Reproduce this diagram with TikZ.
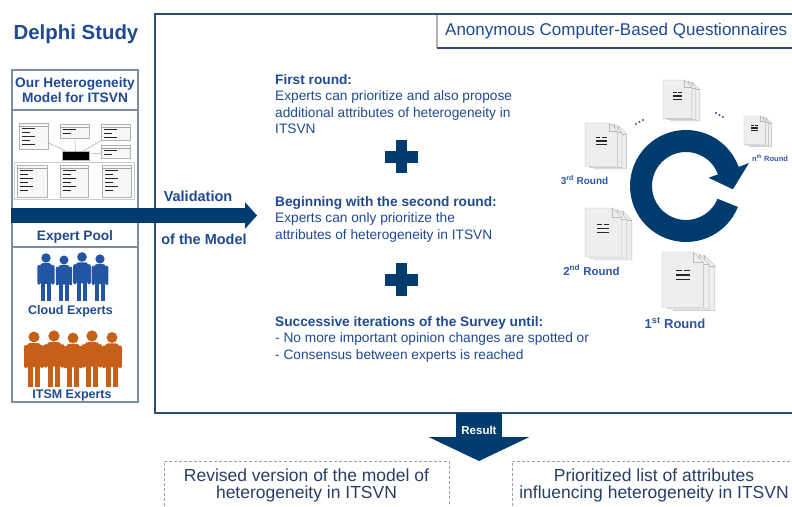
\documentclass[tikz,border=0pt]{standalone}
\usepackage{fontspec}
\setmainfont{Liberation Sans}
\usetikzlibrary{arrows.meta,positioning,calc}
\definecolor{dnavy}{RGB}{0,61,110}
\definecolor{dtext}{RGB}{31,74,145}
\definecolor{dround}{RGB}{45,85,165}
\definecolor{dframe}{RGB}{45,75,115}
\definecolor{dpanel}{RGB}{125,140,165}
\definecolor{dcloud}{RGB}{35,85,165}
\definecolor{ditsm}{RGB}{200,95,25}
\definecolor{dresult}{RGB}{40,62,100}
\definecolor{dpaper}{RGB}{238,238,238}

\tikzset{
  %% one standing person, feet at the origin
  expert/.pic={
    \fill (0,-50) circle (5.5);
    \fill[rounded corners=3] (-7,-44) rectangle (7,-20);
    \fill[rounded corners=2] (-10,-42) rectangle (-6,-19);
    \fill[rounded corners=2] (6,-42) rectangle (10,-19);
    \fill (-6,-22) rectangle (-0.8,0);
    \fill (0.8,-22) rectangle (6,0);
  },
  %% a small stack of questionnaire sheets
  docpage/.style={fill=dpaper, draw=gray!55, line width=0.4pt},
  docstack/.pic={
    \foreach \s in {10,5,0} {
      \filldraw[docpage] (\s,\s*0.3) -- ++(27,0) -- ++(9,9) -- ++(0,39) -- ++(-36,0) -- cycle;
      \draw[gray!55, line width=0.4pt] (\s+27,\s*0.3) -- ++(0,9) -- ++(9,0);
    }
    \draw[line width=1.1pt, black!85] (12,16) -- (17,16) (19,16) -- (24,16)
      (12,20) -- (24,20) (12,24) -- (24,24);
  },
  plussign/.pic={
    \fill (-16.5,-6) rectangle (16.5,6);
    \fill (-5.5,-16.5) rectangle (5.5,16.5);
  }
}

\begin{document}
\begin{tikzpicture}[x=1pt,y=-1pt,
  bluetxt/.style={text=dtext, inner sep=0pt},
  bodytext/.style={bluetxt, align=left, anchor=north west, font=\fontsize{13.7}{16.5}\selectfont},
  headtext/.style={bluetxt, align=center, font=\bfseries\fontsize{13.7}{15}\selectfont},
  crowdtext/.style={bluetxt, font=\bfseries\fontsize{12.5}{14}\selectfont},
  roundtext/.style={text=dround, inner sep=0pt, font=\bfseries\fontsize{#1}{#1}\selectfont},
  resulttext/.style={text=dresult, inner sep=0pt, align=center, font=\fontsize{17.5}{17}\selectfont},
  mainframe/.style={draw=dframe, line width=1.6pt},
  panelbox/.style={draw=dpanel, line width=1.5pt, minimum width=126pt, minimum height=332pt, inner sep=0pt},
  panelline/.style={draw=dpanel, line width=1.5pt},
  umlbox/.style={draw=gray!60, fill=gray!6, line width=0.5pt, inner sep=0pt},
  umlline/.style={draw=gray!70, line width=0.5pt},
  umltext/.style={draw=black!85, line width=0.9pt},
  bigarrow/.style={draw=dnavy, line width=15pt, -{Triangle[width=26pt,length=12pt]}},
  resarrow/.style={draw=dnavy, line width=46pt, -{Triangle[width=100pt,length=24pt]}},
  dashbox/.style={draw=gray!75, line width=0.8pt, dash pattern=on 3pt off 2pt}
]
\path[use as bounding box, fill=white] (0,0) rectangle (792,506);

%% Left column
\node[bluetxt, font=\bfseries\fontsize{20.4}{22}\selectfont] (delphi) at (76,34) {Delphi Study};
\node[panelbox] (panel) at (75,236) {};
\draw[panelline] (panel.west |- 0,110) -- (panel.east |- 0,110);
\draw[panelline] (panel.west |- 0,247) -- (panel.east |- 0,247);
\node[headtext] (model) at (75,90.5) {Our Heterogeneity\\Model for ITSVN};

%% miniature of the model
\node[umlbox, draw=gray!40, fill=none, minimum width=120pt, minimum height=37pt] (bgroup) at (74,180.5) {};
\node[umlbox, minimum width=29pt, minimum height=26pt] (b1) at (33.5,136) {};
\node[umlbox, minimum width=29pt, minimum height=14pt] (b2) at (74.5,131) {};
\node[umlbox, minimum width=29pt, minimum height=16pt] (b3) at (115.5,132) {};
\node[umlbox, minimum width=29pt, minimum height=13pt] (b4) at (115.5,151.5) {};
\node[umlbox, minimum width=30pt, minimum height=32pt] (b5) at (32,181) {};
\node[umlbox, minimum width=28pt, minimum height=32pt] (b6) at (74,181) {};
\node[umlbox, minimum width=29pt, minimum height=32pt] (b7) at (116.5,181) {};
\node[umlbox, fill=black, minimum width=27pt, minimum height=9pt] (bc) at (75.5,155.5) {};
\foreach \bx in {b1,b2,b3,b4,bgroup}
  \draw[umlline] (bc) -- (\bx);
\foreach \bx/\nl in {b1/5,b2/2,b3/3,b4/2,b5/6,b6/6,b7/6} {
  \draw[umlline] ($(\bx.north west)+(0,3)$) -- ($(\bx.north east)+(0,3)$);
  \foreach \kk in {1,...,\nl}
    \draw[umltext] ($(\bx.north west)+(3,2+4*\kk)$) -- ++({8+mod(\kk,2)*5},0);
}

\node[headtext] (pool) at (75,237) {Expert Pool};

%% Cloud and ITSM experts
\foreach \px/\sc in {46/0.86,64/0.82,82/0.88,100/0.84}
  \pic[fill=dcloud, scale=\sc] at (\px,301) {expert};
\node[crowdtext] (cloud) at (70.5,311) {Cloud Experts};
\foreach \px/\sc in {34/1.0,54/1.02,73/0.98,92/1.02,112/0.99}
  \pic[fill=ditsm, scale=\sc] at (\px,387) {expert};
\node[crowdtext] (itsm) at (72,395) {ITSM Experts};

%% Survey frame
\draw[mainframe] (792,14) -- (155,14) -- (155,413) -- (792,413);
\draw[gray!60, line width=2pt] (437,15) -- (437,48);
\draw[mainframe] (437,48) -- (792,48);
\node[bluetxt, anchor=west, font=\fontsize{17}{18}\selectfont] (anon) at (445,31) {Anonymous Computer-Based Questionnaires};

%% Validation arrow
\coordinate (vtip) at (257,215.5);
\draw[bigarrow] (panel.west |- vtip) -- (vtip);
\node[headtext, font=\bfseries\fontsize{14.5}{15}\selectfont] (valid) at (198,196) {Validation};
\node[headtext, font=\bfseries\fontsize{14.5}{15}\selectfont] (ofmodel) at (204,239) {of the Model};

%% Rounds
\node[bodytext] (first) at (275,74) {\textbf{First round:}\\Experts can prioritize and also propose\\additional attributes of heterogeneity in\\ITSVN};
\pic[fill=dnavy] at (401.5,156.5) {plussign};
\node[bodytext] (second) at (275,196) {\textbf{Beginning with the second round:}\\Experts can only prioritize the\\attributes of heterogeneity in ITSVN};
\pic[fill=dnavy] at (401.5,279.5) {plussign};
\node[bodytext] (third) at (275,316) {\textbf{Successive iterations of the Survey until:}\\- No more important opinion changes are spotted or\\- Consensus between experts is reached};

%% Circular iteration
\begin{scope}[shift={(686,186)}, yscale=-1]
  \fill[dnavy] (-22:56) arc[start angle=-22, end angle=-340, radius=56]
    -- (-340:67) -- (-4:47) -- (-340:24) -- (-340:34)
    arc[start angle=-340, end angle=-22, radius=34] -- cycle;
\end{scope}

\pic[scale=0.8] at (663,80) {docstack};
\pic[scale=0.9] at (585,123) {docstack};
\pic[scale=0.6] at (744,116) {docstack};
\pic[scale=1.02] at (585,208) {docstack};
\pic[scale=1.15] at (662,252) {docstack};
\foreach \i in {0,1,2} {
  \fill[dround] ($(636,124)+(-30:\i*4)$) circle (1.1);
  \fill[dround] ($(716,113)+(30:\i*4)$) circle (1.1);
}
\node[roundtext=10] (r3) at (584.5,180) {3\textsuperscript{rd} Round};
\node[roundtext=11.5] (r2) at (591.5,270) {2\textsuperscript{nd} Round};
\node[roundtext=13] (r1) at (675,323) {1\textsuperscript{st} Round};
\node[roundtext=7.5] (rn) at (770,158) {n\textsuperscript{th} Round};

%% Result
\coordinate (rtop) at (479,413);
\coordinate (rtip) at (479,461);
\draw[resarrow] (rtop) -- (rtip);
\node[inner sep=0pt, text=white, font=\bfseries\fontsize{11.5}{12}\selectfont] (result) at (479,430) {Result};

\draw[dashbox] (164,506) -- (164,461) -- (449,461) -- (449,506);
\draw[dashbox] (512,506) -- (512,461) -- (792,461);
\node[resulttext] (revised) at (306.5,485.5) {Revised version of the model of\\heterogeneity in ITSVN};
\node[resulttext] (prioritized) at (654,485.5) {Prioritized list of attributes\\influencing heterogeneity in ITSVN};
\end{tikzpicture}
\end{document}
